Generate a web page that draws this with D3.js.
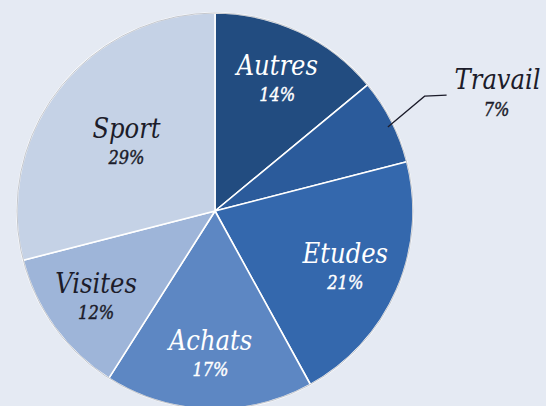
<!DOCTYPE html>
<html>
<head>
<meta charset="utf-8">
<script src="https://cdn.jsdelivr.net/npm/d3@7"></script>
<style>
  html, body { margin: 0; padding: 0; background: #e5eaf3; }
  svg { display: block; }
  text { font-family: "DejaVu Serif Condensed", "DejaVu Serif", serif; font-style: italic; }
</style>
</head>
<body>
<svg id="pie_svg" width="546" height="406"></svg>
<script>
// chart data (clockwise from 12 o'clock)
const categories = ["Autres", "Travail", "Etudes", "Achats", "Visites", "Sport"];
const shares = [14, 7, 21, 17, 12, 29];
const sliceColors = ["#224c80", "#2b5b9b", "#3468ad", "#5d87c3", "#9eb5d9", "#c5d2e6"];
const labelColors = ["#ffffff", "#1c1c2a", "#ffffff", "#ffffff", "#1c1c2a", "#1c1c2a"];

// layout
const cx = 215;
const cy = 211;
const radius = 198;
const nameSize = "27px";
const pctSize = "18px";

const data = categories.map((c, i) => ({ label: c, value: shares[i], index: i }));

const svg = d3.select("#pie_svg");
const g = svg.append("g").attr("transform", `translate(${cx},${cy})`);

const pie = d3.pie().sort(null).value(d => d.value);
const arcs = pie(data);

const arc = d3.arc().innerRadius(0).outerRadius(radius);

// slices
g.selectAll(".arc")
  .data(arcs)
  .enter()
  .append("path")
  .attr("class", "arc")
  .attr("d", arc)
  .style("fill", d => sliceColors[d.data.index])
  .style("stroke", "#ffffff")
  .style("stroke-width", 1.6)
  .style("stroke-linejoin", "round");

// faint outer rim
g.append("circle")
  .attr("r", radius)
  .style("fill", "none")
  .style("stroke", "#5a6272")
  .style("stroke-opacity", 0.45)
  .style("stroke-width", 0.8);

// label radius per slice (Sport sits closer to the centre)
function labelRadius(label) {
  if (label == "Sport") return 112;
  if (label == "Autres") return 146;
  if (label == "Etudes") return 142;
  if (label == "Achats") return 143;
  return 147;
}

const inside = arcs.filter(d => d.data.label != "Travail");

inside.forEach(d => {
  const mid = (d.startAngle + d.endAngle) / 2;
  const r = labelRadius(d.data.label);
  const x = Math.sin(mid) * r;
  const y = -Math.cos(mid) * r;
  const col = labelColors[d.data.index];

  g.append("text")
    .attr("x", x)
    .attr("y", y - 4)
    .attr("text-anchor", "middle")
    .style("font-size", nameSize)
    .style("fill", col)
    .text(d.data.label);

  g.append("text")
    .attr("x", x)
    .attr("y", y + 22)
    .attr("text-anchor", "middle")
    .style("font-size", pctSize)
    .style("fill", col)
    .style("stroke", col)
    .style("stroke-width", 0.4)
    .text(d.data.value + "%");
});

// Travail sits outside with a leader line
const travail = arcs.find(d => d.data.label == "Travail");
const tMid = (travail.startAngle + travail.endAngle) / 2;
const p0 = [Math.sin(tMid) * (radius - 4), -Math.cos(tMid) * (radius - 4) + 4];
const elbowAngle = tMid - 0.03;
const p1 = [Math.sin(elbowAngle) * 239, -Math.cos(elbowAngle) * 239];
const p2 = [p1[0] + 22, p1[1] - 1];

g.append("path")
  .attr("d", d3.line()([p0, p1, p2]))
  .style("fill", "none")
  .style("stroke", "#1c1c2a")
  .style("stroke-width", 1.3);

g.append("text")
  .attr("x", p2[0] + 51)
  .attr("y", p1[1] - 7)
  .attr("text-anchor", "middle")
  .style("font-size", nameSize)
  .style("fill", labelColors[travail.data.index])
  .text(travail.data.label);

g.append("text")
  .attr("x", p2[0] + 50)
  .attr("y", p1[1] + 20)
  .attr("text-anchor", "middle")
  .style("font-size", pctSize)
  .style("fill", labelColors[travail.data.index])
  .style("stroke", labelColors[travail.data.index])
  .style("stroke-width", 0.4)
  .text(travail.data.value + "%");
</script>
</body>
</html>
